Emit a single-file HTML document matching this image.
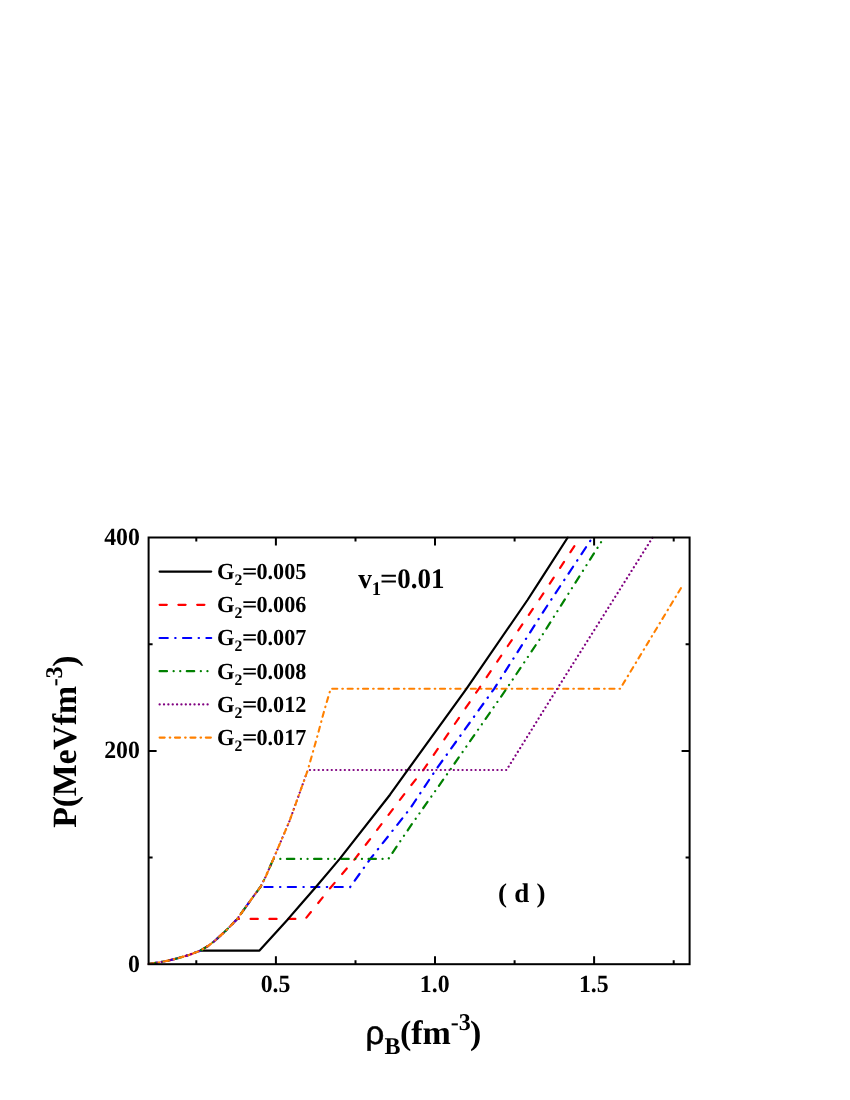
<!DOCTYPE html>
<html><head><meta charset="utf-8"><title>chart</title>
<style>html,body{margin:0;padding:0;background:#fff}body{width:850px;height:1100px;position:relative;overflow:hidden;font-family:"Liberation Serif",serif}</style>
</head><body>
<svg width="850" height="1100" viewBox="0 0 850 1100" style="position:absolute;left:0;top:0;will-change:transform">
<defs><clipPath id="cp"><rect x="147.6" y="536.5" width="543.0" height="428.7"/></clipPath></defs>
<g clip-path="url(#cp)" fill="none" stroke-linejoin="round" stroke-linecap="round">
<path d="M330.7 688.7 L620.2 688.7 L680.9 588.2" stroke="#ff8000" stroke-width="2.1" stroke-dasharray="5.1 5.0 0.6 4.7" stroke-dashoffset="352.7"/>
<path d="M237.2 918.9 L305.4 918.9 L331.1 887.0 L355.0 858.9 L410.0 786.7 L423.4 769.9 L478.8 688.8 L538.9 600.0 L540.0 598.5 L580.1 537.5" stroke="#ff0000" stroke-width="2.2" stroke-dasharray="7.2 11.6" stroke-dashoffset="99.4"/>
<path d="M260.4 887.0 L350.2 887.0 L370.3 858.9 L410.0 808.7 L435.8 769.9 L494.1 688.8 L540.0 616.9 L550.0 601.5 L592.5 537.5" stroke="#0000ff" stroke-width="2.2" stroke-dasharray="8.2 7.4 0.4 7.4" stroke-dashoffset="136.4"/>
<path d="M273.4 858.9 L388.4 858.9 L410.0 826.8 L450.1 769.9 L506.5 688.8 L540.0 638.8 L550.0 622.9 L604.0 537.5" stroke="#008000" stroke-width="2.2" stroke-dasharray="7.4 6.6 0.1 6.5 0.1 6.5" stroke-dashoffset="176.9"/>
<path d="M307.8 770.0 L506.5 770.0 L550.0 700.2 L600.0 621.0 L652.6 537.5" stroke="#800080" stroke-width="2.2" stroke-dasharray="0.1 4.26" stroke-dashoffset="268.2"/>
<path d="M200.4 950.6 L259.5 950.6 L288.2 918.9 L300.0 905.2 L315.9 887.0 L339.7 858.9 L390.0 794.7 L407.8 769.9 L466.4 688.8 L527.5 600.0 L540.0 580.6 L567.7 537.5" stroke="#000000" stroke-width="2.2"/>
<path d="M148.6 964.0 L158.8 962.4 L168.0 960.6 L177.6 958.3 L189.0 955.0 L200.2 950.7 L208.0 946.0 L215.3 940.4 L226.0 930.5 L236.9 919.3 L237.2 918.9" stroke="#ff0000" stroke-width="2.2" stroke-dasharray="7.2 11.6" stroke-dashoffset="0.0"/>
<path d="M148.6 964.0 L158.8 962.4 L168.0 960.6 L177.6 958.3 L189.0 955.0 L200.2 950.7 L208.0 946.0 L215.3 940.4 L226.0 930.5 L236.9 919.3 L245.4 907.6 L254.8 894.5 L260.4 887.0" stroke="#0000ff" stroke-width="2.2" stroke-dasharray="8.2 7.4 0.4 7.4" stroke-dashoffset="0.0"/>
<path d="M148.6 964.0 L158.8 962.4 L168.0 960.6 L177.6 958.3 L189.0 955.0 L200.2 950.7 L208.0 946.0 L215.3 940.4 L226.0 930.5 L236.9 919.3 L245.4 907.6 L254.8 894.5 L260.5 886.9 L266.0 876.0 L273.4 858.9" stroke="#008000" stroke-width="2.2" stroke-dasharray="7.4 6.6 0.1 6.5 0.1 6.5" stroke-dashoffset="0.0"/>
<path d="M148.6 964.0 L158.8 962.4 L168.0 960.6 L177.6 958.3 L189.0 955.0 L200.2 950.7 L208.0 946.0 L215.3 940.4 L226.0 930.5 L236.9 919.3 L245.4 907.6 L254.8 894.5 L260.5 886.9 L266.0 876.0 L273.4 858.8 L281.0 841.0 L289.6 820.8 L299.2 794.1 L307.8 770.0 L307.8 770.0" stroke="#800080" stroke-width="2.2" stroke-dasharray="0.1 4.26" stroke-dashoffset="0.0"/>
<path d="M148.6 964.0 L158.8 962.4 L168.0 960.6 L177.6 958.3 L189.0 955.0 L200.2 950.7 L208.0 946.0 L215.3 940.4 L226.0 930.5 L236.9 919.3 L245.4 907.6 L254.8 894.5 L260.5 886.9 L266.0 876.0 L273.4 858.8 L281.0 841.0 L289.6 820.8 L299.2 794.1 L307.8 770.0 L316.4 739.7 L324.0 711.5 L330.7 688.7" stroke="#ff8000" stroke-width="2.1" stroke-dasharray="5.1 5.0 0.6 4.7" stroke-dashoffset="0.0"/>
</g>
<rect x="148.6" y="537.5" width="541.0" height="426.7" fill="none" stroke="#000" stroke-width="2"/>
<path d="M196.3 537.5 v4 M196.3 964.2 v-4 M275.9 537.5 v8 M275.9 964.2 v-8 M355.5 537.5 v4 M355.5 964.2 v-4 M435.0 537.5 v8 M435.0 964.2 v-8 M514.6 537.5 v4 M514.6 964.2 v-4 M594.1 537.5 v8 M594.1 964.2 v-8 M673.7 537.5 v4 M673.7 964.2 v-4 M148.6 857.5 h4 M689.6 857.5 h-4 M148.6 750.9 h8 M689.6 750.9 h-8 M148.6 644.2 h4 M689.6 644.2 h-4" stroke="#000" stroke-width="2" fill="none"/>
<path d="M159.6 571.6 H211.2" stroke-linecap="round" stroke="#000000" stroke-width="2.2" fill="none"/>
<path d="M159.6 604.8 H211.2" stroke-linecap="round" stroke="#ff0000" stroke-width="2.2" fill="none" stroke-dasharray="7.2 11.6"/>
<path d="M159.6 638.0 H211.2" stroke-linecap="round" stroke="#0000ff" stroke-width="2.2" fill="none" stroke-dasharray="8.2 7.4 0.4 7.4"/>
<path d="M159.6 671.2 H211.2" stroke-linecap="round" stroke="#008000" stroke-width="2.2" fill="none" stroke-dasharray="7.4 6.6 0.1 6.5 0.1 6.5"/>
<path d="M159.6 704.4 H211.2" stroke-linecap="round" stroke="#800080" stroke-width="2.2" fill="none" stroke-dasharray="0.1 4.26"/>
<path d="M159.6 737.6 H211.2" stroke-linecap="round" stroke="#ff8000" stroke-width="2.1" fill="none" stroke-dasharray="5.1 5.0 0.6 4.7"/>
<text transform="translate(217.00 578.90) scale(0.980 1)" font-family="Liberation Serif, serif" font-weight="bold" text-rendering="geometricPrecision" font-size="23.0">G<tspan dy="6" font-size="16">2</tspan></text>
<text transform="translate(241.90 578.90) scale(1.170 1)" font-family="Liberation Serif, serif" font-weight="bold" text-rendering="geometricPrecision" font-size="23.0">=</text>
<text transform="translate(256.40 578.90) scale(0.965 1)" font-family="Liberation Serif, serif" font-weight="bold" text-rendering="geometricPrecision" font-size="23.0">0.005</text>
<text transform="translate(217.00 612.10) scale(0.980 1)" font-family="Liberation Serif, serif" font-weight="bold" text-rendering="geometricPrecision" font-size="23.0">G<tspan dy="6" font-size="16">2</tspan></text>
<text transform="translate(241.90 612.10) scale(1.170 1)" font-family="Liberation Serif, serif" font-weight="bold" text-rendering="geometricPrecision" font-size="23.0">=</text>
<text transform="translate(256.40 612.10) scale(0.965 1)" font-family="Liberation Serif, serif" font-weight="bold" text-rendering="geometricPrecision" font-size="23.0">0.006</text>
<text transform="translate(217.00 645.30) scale(0.980 1)" font-family="Liberation Serif, serif" font-weight="bold" text-rendering="geometricPrecision" font-size="23.0">G<tspan dy="6" font-size="16">2</tspan></text>
<text transform="translate(241.90 645.30) scale(1.170 1)" font-family="Liberation Serif, serif" font-weight="bold" text-rendering="geometricPrecision" font-size="23.0">=</text>
<text transform="translate(256.40 645.30) scale(0.965 1)" font-family="Liberation Serif, serif" font-weight="bold" text-rendering="geometricPrecision" font-size="23.0">0.007</text>
<text transform="translate(217.00 678.50) scale(0.980 1)" font-family="Liberation Serif, serif" font-weight="bold" text-rendering="geometricPrecision" font-size="23.0">G<tspan dy="6" font-size="16">2</tspan></text>
<text transform="translate(241.90 678.50) scale(1.170 1)" font-family="Liberation Serif, serif" font-weight="bold" text-rendering="geometricPrecision" font-size="23.0">=</text>
<text transform="translate(256.40 678.50) scale(0.965 1)" font-family="Liberation Serif, serif" font-weight="bold" text-rendering="geometricPrecision" font-size="23.0">0.008</text>
<text transform="translate(217.00 711.70) scale(0.980 1)" font-family="Liberation Serif, serif" font-weight="bold" text-rendering="geometricPrecision" font-size="23.0">G<tspan dy="6" font-size="16">2</tspan></text>
<text transform="translate(241.90 711.70) scale(1.170 1)" font-family="Liberation Serif, serif" font-weight="bold" text-rendering="geometricPrecision" font-size="23.0">=</text>
<text transform="translate(256.40 711.70) scale(0.965 1)" font-family="Liberation Serif, serif" font-weight="bold" text-rendering="geometricPrecision" font-size="23.0">0.012</text>
<text transform="translate(217.00 744.90) scale(0.980 1)" font-family="Liberation Serif, serif" font-weight="bold" text-rendering="geometricPrecision" font-size="23.0">G<tspan dy="6" font-size="16">2</tspan></text>
<text transform="translate(241.90 744.90) scale(1.170 1)" font-family="Liberation Serif, serif" font-weight="bold" text-rendering="geometricPrecision" font-size="23.0">=</text>
<text transform="translate(256.40 744.90) scale(0.965 1)" font-family="Liberation Serif, serif" font-weight="bold" text-rendering="geometricPrecision" font-size="23.0">0.017</text>
<text transform="translate(139.9 971.6) scale(0.96 1)" text-anchor="end" font-family="Liberation Serif, serif" font-weight="bold" text-rendering="geometricPrecision" font-size="24.8">0</text>
<text transform="translate(139.9 758.2) scale(0.96 1)" text-anchor="end" font-family="Liberation Serif, serif" font-weight="bold" text-rendering="geometricPrecision" font-size="24.8">200</text>
<text transform="translate(139.9 544.9) scale(0.96 1)" text-anchor="end" font-family="Liberation Serif, serif" font-weight="bold" text-rendering="geometricPrecision" font-size="24.8">400</text>
<text transform="translate(275.6 991.9) scale(0.96 1)" text-anchor="middle" font-family="Liberation Serif, serif" font-weight="bold" text-rendering="geometricPrecision" font-size="24.8">0.5</text>
<text transform="translate(434.7 991.9) scale(0.96 1)" text-anchor="middle" font-family="Liberation Serif, serif" font-weight="bold" text-rendering="geometricPrecision" font-size="24.8">1.0</text>
<text transform="translate(593.8 991.9) scale(0.96 1)" text-anchor="middle" font-family="Liberation Serif, serif" font-weight="bold" text-rendering="geometricPrecision" font-size="24.8">1.5</text>
<text transform="translate(358.20 587.60) scale(0.960 1)" font-family="Liberation Serif, serif" font-weight="bold" text-rendering="geometricPrecision" font-size="28.4">v<tspan dy="7.4" font-size="19.5">1</tspan></text>
<text transform="translate(379.90 587.60) scale(1.090 1)" font-family="Liberation Serif, serif" font-weight="bold" text-rendering="geometricPrecision" font-size="28.4">=</text>
<text transform="translate(397.20 587.60) scale(0.950 1)" font-family="Liberation Serif, serif" font-weight="bold" text-rendering="geometricPrecision" font-size="28.4">0.01</text>
<text x="498.1" y="902.2" font-family="Liberation Serif, serif" font-weight="bold" text-rendering="geometricPrecision" font-size="27" word-spacing="0.4">( d )</text>
<text x="365.6" y="1044.2" font-family="Liberation Serif, serif" font-weight="bold" text-rendering="geometricPrecision" font-size="34"><tspan font-family="Liberation Sans, sans-serif" font-weight="normal" font-size="33" stroke="#000" stroke-width="0.5">ρ</tspan><tspan dy="9.5" font-size="24">B</tspan><tspan dy="-9.5" dx="-0.5">(fm</tspan><tspan dy="-14" font-size="24">-3</tspan><tspan dy="14" dx="-0.8">)</tspan></text>
<text transform="translate(76.2 827.8) rotate(-90)" font-family="Liberation Serif, serif" font-weight="bold" text-rendering="geometricPrecision" font-size="34" letter-spacing="-0.28">P(MeVfm<tspan dy="-14" font-size="24">-3</tspan><tspan dy="14">)</tspan></text>
</svg>
</body></html>
